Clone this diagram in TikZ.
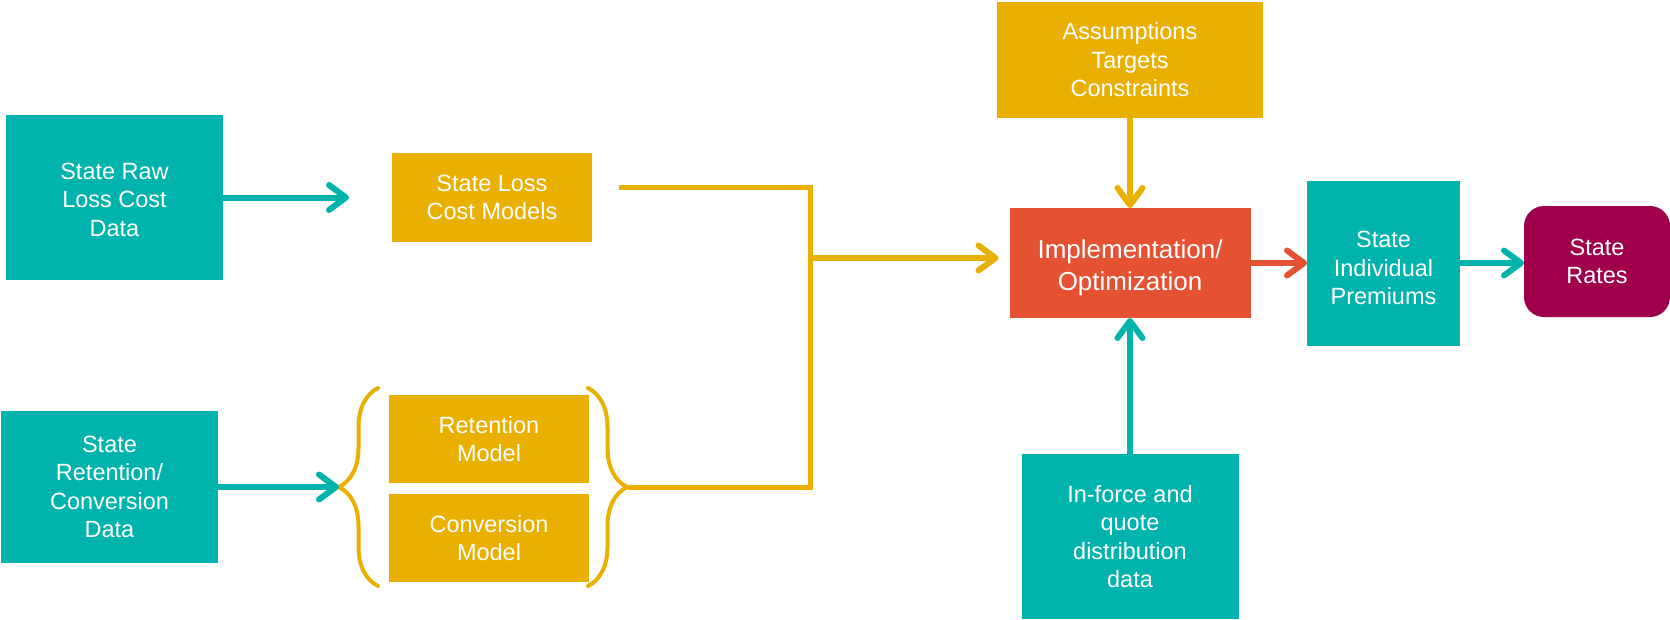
\documentclass[tikz,border=0pt]{standalone}
\usepackage{fontspec}
\setmainfont{Liberation Sans}
\usetikzlibrary{arrows.meta,decorations.pathreplacing}
\definecolor{tealc}{RGB}{0,179,173}
\definecolor{goldc}{RGB}{234,176,0}
\definecolor{redc}{RGB}{228,81,51}
\definecolor{plumc}{RGB}{160,0,75}
\tikzset{
  box/.style={inner sep=0pt,outer sep=0pt,text=white,align=center,font=\fontsize{23.5}{28.5}\selectfont},
  tealbox/.style={box,fill=tealc},
  goldbox/.style={box,fill=goldc},
  barb/.style={-{Straight Barb[length=17pt,width=25pt,round]}},
  tarrow/.style={barb,draw=tealc,line width=6pt},
  garrow/.style={barb,draw=goldc,line width=6pt},
  rarrow/.style={barb,draw=redc,line width=6pt},
  gline/.style={draw=goldc,line width=5pt},
  gbrace/.style={draw=goldc,line width=4pt,line cap=round,decorate,decoration={brace,amplitude=39pt}}
}
\begin{document}
\begin{tikzpicture}[x=1pt,y=-1pt]
  \useasboundingbox (0,0) rectangle (1670,619);
  % inputs
  \node[tealbox,minimum width=217pt,minimum height=165pt,text height=78pt] (raw) at (114.5,197.5) {State Raw\\Loss Cost\\Data};
  \node[tealbox,minimum width=217pt,minimum height=152pt] (retd) at (109.5,487) {State\\Retention/\\Conversion\\Data};
  \node[goldbox,minimum width=200pt,minimum height=89pt] (lossm) at (492,197.5) {State Loss\\Cost Models};
  \node[goldbox,minimum width=200pt,minimum height=88pt] (retm) at (489,439) {Retention\\Model};
  \node[goldbox,minimum width=200pt,minimum height=88pt] (convm) at (489,538) {Conversion\\Model};
  \node[goldbox,minimum width=266pt,minimum height=116pt] (assum) at (1130,60) {Assumptions\\Targets\\Constraints};
  \node[box,fill=redc,minimum width=241pt,minimum height=110pt,text height=61pt,font=\fontsize{26}{32}\selectfont] (impl) at (1130,263) {Implementation/\\Optimization};
  \node[tealbox,minimum width=217pt,minimum height=165pt] (inforce) at (1130,536.5) {In-force and\\quote\\distribution\\data};
  \node[tealbox,minimum width=153pt,minimum height=165pt,text height=84pt] (prem) at (1383.5,263) {State\\Individual\\Premiums};
  \node[box,fill=plumc,rounded corners=20pt,minimum width=146pt,minimum height=111pt] (rates) at (1597,261.5) {State\\Rates};
  % braces round the two models
  \coordinate (lbtip) at (339,487);
  \coordinate (rbtip) at (628,487);
  \draw[gbrace] (378,586) -- (378,388);
  \draw[gbrace] (588,388) -- (588,586);
  % gold bus
  \coordinate (lmout) at (619,187);
  \coordinate (jn) at (810,487);
  \coordinate (bus) at (810,258);
  \draw[gline] (lmout) -| (jn) -- (rbtip);
  \draw[garrow,shorten >=11pt] (bus) -- (bus -| impl.west);
  % arrows
  \draw[tarrow,shorten >=43pt] (raw) -- (lossm);
  \draw[tarrow] (retd) -- (lbtip);
  \draw[garrow] (assum) -- (impl);
  \draw[rarrow] (impl) -- (prem);
  \draw[tarrow] (prem.east) -- (prem.east -| rates.west);
  \draw[tarrow] (inforce) -- (impl);
\end{tikzpicture}
\end{document}
